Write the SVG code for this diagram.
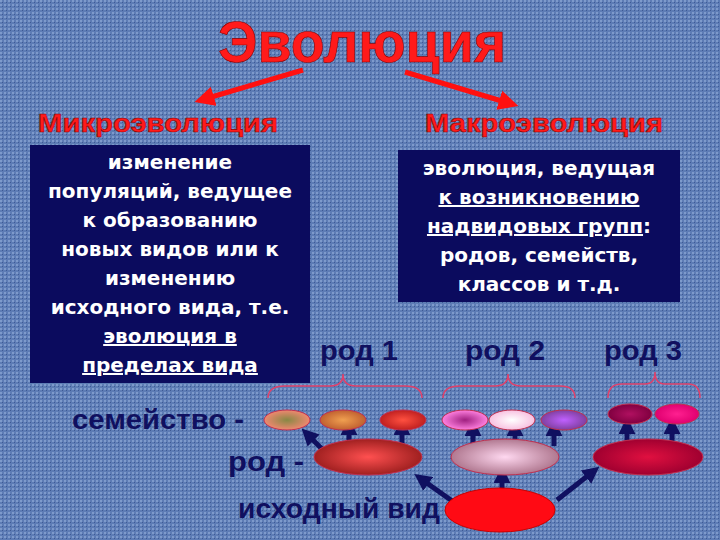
<svg xmlns="http://www.w3.org/2000/svg" width="720" height="540" viewBox="0 0 720 540">
<defs>
<style>
.box{fill:#0b0b5e}
.bt{font-family:"DejaVu Sans",sans-serif;font-size:20px;font-weight:bold;fill:#fff;text-anchor:middle}
.red{font-family:"Liberation Sans",sans-serif;font-weight:bold;fill:#ff1a1a;stroke:#8a0000;stroke-width:0.6}
.nv{font-family:"Liberation Sans",sans-serif;font-weight:bold;fill:#101060;font-size:28px}
.br{fill:none;stroke:#e0406a;stroke-width:1.5}
.ar{stroke:#101060;stroke-width:5;marker-end:url(#ah)}
.ra{stroke:#ff1010;stroke-width:5;marker-end:url(#rh)}
.e{stroke:#c03050;stroke-width:1}
</style>
<marker id="ah" viewBox="0 0 10 10" refX="3" refY="5" markerWidth="3.4" markerHeight="3.4" orient="auto" markerUnits="strokeWidth"><path d="M0,0L10,5L0,10z" fill="#101060"/></marker>
<marker id="rh" viewBox="0 0 10 10" refX="3" refY="5" markerWidth="4" markerHeight="4" orient="auto" markerUnits="strokeWidth"><path d="M0,0L10,5L0,10z" fill="#ff1010"/></marker>
<pattern id="bg" width="4" height="4" patternUnits="userSpaceOnUse"><rect width="4" height="4" fill="#5d7cb5"/><rect width="2" height="2" fill="#7e9acb"/><rect x="2" y="2" width="1" height="1" fill="#3e5a94"/></pattern>
<radialGradient id="g1"><stop offset="0" stop-color="#884"/><stop offset="1" stop-color="#f08870"/></radialGradient>
<radialGradient id="g2"><stop offset="0" stop-color="#f0a050"/><stop offset="1" stop-color="#c06030"/></radialGradient>
<radialGradient id="g3"><stop offset="0" stop-color="#ff5040"/><stop offset="1" stop-color="#c02020"/></radialGradient>
<radialGradient id="g4"><stop offset="0" stop-color="#a02080"/><stop offset="1" stop-color="#ff80e0"/></radialGradient>
<radialGradient id="g5"><stop offset="0" stop-color="#fff"/><stop offset="1" stop-color="#f8c0e0"/></radialGradient>
<radialGradient id="g6"><stop offset="0" stop-color="#c060ff"/><stop offset="1" stop-color="#8040a0"/></radialGradient>
<radialGradient id="g7"><stop offset="0" stop-color="#b01060"/><stop offset="1" stop-color="#800040"/></radialGradient>
<radialGradient id="g8"><stop offset="0" stop-color="#ff2090"/><stop offset="1" stop-color="#e00070"/></radialGradient>
<radialGradient id="R1"><stop offset="0" stop-color="#ff5050"/><stop offset="1" stop-color="#a02020"/></radialGradient>
<radialGradient id="R2"><stop offset="0" stop-color="#ffd8f0"/><stop offset="1" stop-color="#b07890"/></radialGradient>
<radialGradient id="R3"><stop offset="0" stop-color="#e01040"/><stop offset="1" stop-color="#a00030"/></radialGradient>
</defs>
<rect width="720" height="540" fill="url(#bg)"/>
<text class="red" x="218" y="62" font-size="58" textLength="288" lengthAdjust="spacingAndGlyphs">Эволюция</text>
<text class="red" x="38" y="132" font-size="26" textLength="240" lengthAdjust="spacingAndGlyphs">Микроэволюция</text>
<text class="red" x="425" y="132" font-size="26" textLength="238" lengthAdjust="spacingAndGlyphs">Макроэволюция</text>
<g id="connectors">
<line class="ra" x1="303" y1="70" x2="208" y2="98"/>
<line class="ra" x1="405" y1="72" x2="505" y2="102"/>
<path class="br" d="M268,398 Q268,386 285,386 L330,386 Q343,386 343,374 Q343,386 356,386 L405,386 Q422,386 422,398"/>
<path class="br" d="M443,398 Q443,386 460,386 L495,386 Q508,386 508,374 Q508,386 521,386 L560,386 Q575,386 575,398"/>
<path class="br" d="M608,398 Q608,384 622,384 L645,384 Q655,384 655,372 Q655,384 665,384 L688,384 Q700,384 700,398"/>
<line class="ar" x1="322" y1="449" x2="310" y2="437"/>
<line class="ar" x1="349" y1="445" x2="349" y2="430"/>
<line class="ar" x1="402" y1="445" x2="402" y2="430"/>
<line class="ar" x1="473" y1="446" x2="473" y2="431"/>
<line class="ar" x1="515" y1="452" x2="515" y2="431"/>
<line class="ar" x1="554" y1="446" x2="554" y2="431"/>
<line class="ar" x1="627" y1="446" x2="627" y2="429"/>
<line class="ar" x1="672" y1="446" x2="672" y2="429"/>
<line class="ar" x1="455" y1="503" x2="424" y2="481"/>
<line class="ar" x1="502" y1="490" x2="502" y2="478"/>
<line class="ar" x1="557" y1="500" x2="590" y2="474"/>
</g>
<g id="micro"><rect class="box" x="30" y="145" width="280" height="238"/>
<text class="bt" x="170" y="169">изменение</text><text class="bt" x="170" y="198">популяций, ведущее</text><text class="bt" x="170" y="227">к образованию</text><text class="bt" x="170" y="256">новых видов или к</text><text class="bt" x="170" y="285">изменению</text><text class="bt" x="170" y="314">исходного вида, т.е.</text><text class="bt" x="170" y="343" text-decoration="underline">эволюция в</text><text class="bt" x="170" y="372" text-decoration="underline">пределах вида</text></g>
<g id="macro"><rect class="box" x="398" y="150" width="282" height="152"/>
<text class="bt" x="539" y="175">эволюция, ведущая</text><text class="bt" x="539" y="204" text-decoration="underline">к возникновению</text><text class="bt" x="539" y="233"><tspan text-decoration="underline">надвидовых групп</tspan>:</text><text class="bt" x="539" y="262">родов, семейств,</text><text class="bt" x="539" y="291">классов и т.д.</text></g>
<g id="labels" class="nv">
<text x="320" y="360" textLength="78" lengthAdjust="spacingAndGlyphs">род 1</text><text x="465" y="360" textLength="80" lengthAdjust="spacingAndGlyphs">род 2</text><text x="604" y="360" textLength="78" lengthAdjust="spacingAndGlyphs">род 3</text>
<text x="72" y="429" textLength="172" lengthAdjust="spacingAndGlyphs">семейство -</text><text x="228" y="471" textLength="76" lengthAdjust="spacingAndGlyphs">род -</text><text x="238" y="518" textLength="202" lengthAdjust="spacingAndGlyphs">исходный вид</text></g>
<g id="families">
<ellipse class="e" cx="287" cy="420" rx="23" ry="10" fill="url(#g1)"/>
<ellipse class="e" cx="343" cy="420" rx="23" ry="10" fill="url(#g2)"/>
<ellipse class="e" cx="403" cy="420" rx="23" ry="10" fill="url(#g3)"/>
<ellipse class="e" cx="465" cy="420" rx="23" ry="10" fill="url(#g4)"/>
<ellipse class="e" cx="512" cy="420" rx="23" ry="10" fill="url(#g5)"/>
<ellipse class="e" cx="564" cy="420" rx="23" ry="10" fill="url(#g6)"/>
<ellipse class="e" cx="630" cy="414" rx="22" ry="10" fill="url(#g7)"/>
<ellipse class="e" cx="677" cy="414" rx="22" ry="10" fill="url(#g8)"/>
</g>
<g id="genera">
<ellipse class="e" cx="368" cy="457" rx="54" ry="18" fill="url(#R1)"/>
<ellipse class="e" cx="505" cy="457" rx="54" ry="18" fill="url(#R2)"/>
<ellipse class="e" cx="648" cy="457" rx="55" ry="18" fill="url(#R3)"/>
</g>
<g id="source"><ellipse cx="500" cy="510" rx="55" ry="22" fill="#ff0a14" stroke="#c00" stroke-width="1"/></g>
</svg>
